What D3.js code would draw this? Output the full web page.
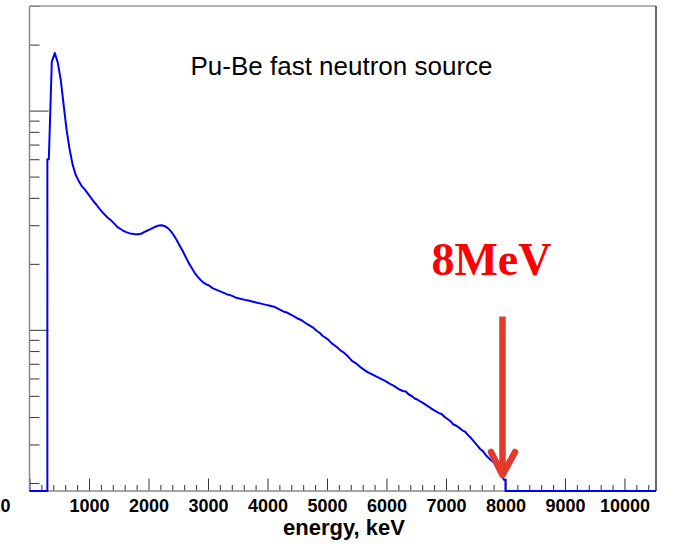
<!DOCTYPE html>
<html>
<head>
<meta charset="utf-8">
<script src="https://cdn.jsdelivr.net/npm/d3@7"></script>
<style>
  body { margin: 0; background: #fff; }
  svg { display: block; }
</style>
</head>
<body>
<svg id="chart" width="679" height="546"></svg>
<script>
// Pu-Be neutron spectrum, counts per 50 keV bin starting at 0 keV
const binWidth = 50;
const counts = [
  // 0 - 1000 keV
  0, 0, 0, 0, 0, 0, 600, 1674, 1830, 1656, 1385, 1054, 810, 664, 567, 510, 479, 454, 438, 420,
  // 1000 - 2000 keV
  403, 386, 372, 357, 344, 333, 323, 315, 305, 295, 289, 283, 279, 276, 274, 273, 273, 274, 279, 283,
  // 2000 - 3000 keV
  287, 292, 296, 299, 300, 297, 291, 282, 270, 256, 242, 229, 215, 202, 192, 182, 175, 169, 164, 161,
  // 3000 - 4000 keV
  159, 155, 153, 151, 149, 147, 145, 144, 142, 140, 139, 138, 137, 136, 135, 134, 133, 132, 131, 130,
  // 4000 - 5000 keV
  129, 128, 127, 125, 123, 121, 120, 118, 116, 114, 112, 110.6, 108, 106, 104, 102, 99, 97, 94, 92,
  // 5000 - 6000 keV
  90, 87, 85, 83, 80.6, 79, 77.0, 74.5, 72.0, 70.7, 68.9, 67.2, 65.7, 64.3, 63.3, 62.3, 61.3, 60.4, 59.4, 58.5,
  // 6000 - 7000 keV
  57.4, 56.4, 55.5, 54.4, 53.3, 52.6, 52.3, 50.7, 49.9, 48.6, 48.0, 47.0, 46.2, 45.2, 44.3, 43.4, 42.6, 41.8, 41.3, 40.1,
  // 7000 - 8000 keV
  39.2, 38.3, 37.0, 36.5, 35.7, 34.8, 34.2, 33.0, 32.0, 30.8, 29.7, 28.6, 27.9, 26.7, 25.9, 25.2, 24.6, 23.2, 21.9, 20.7,
  // 8000 - 9000 keV
  0, 0, 0, 0, 0, 0, 0, 0, 0, 0, 0, 0, 0, 0, 0, 0, 0, 0, 0, 0,
  // 9000 - 10000 keV
  0, 0, 0, 0, 0, 0, 0, 0, 0, 0, 0, 0, 0, 0, 0, 0, 0, 0, 0, 0,
  // 10000 - 10550 keV
  0, 0, 0, 0, 0, 0, 0, 0, 0, 0, 0
];
const energyLabels = [0, 1000, 2000, 3000, 4000, 5000, 6000, 7000, 8000, 9000, 10000];
const energyRange = [0, 10530];
const countRange = [18.4, 3000];
const titleText = "Pu-Be fast neutron source";
const axisTitleText = "energy, keV";
const markerText = "8MeV";
const markerEnergy = 7950;

const svg = d3.select("#chart");
const plot = { left: 29.5, right: 656, top: 6, bottom: 491 };

const x = d3.scaleLinear().domain(energyRange).range([plot.left, plot.right]);
const y = d3.scaleLog().domain(countRange).range([plot.bottom, plot.top]);
const yOf = v => (v > countRange[0] ? y(v) : plot.bottom);

// ---- x axis: minor ticks every 200 keV, major every 1000 keV, all pointing inward
const minorX = d3.range(0, energyRange[1], 200).filter(v => v % 1000 !== 0);
const gxMinor = svg.append("g")
  .attr("transform", `translate(0,${plot.bottom})`)
  .call(d3.axisTop(x).tickValues(minorX).tickSize(6).tickFormat(""));
const gxMajor = svg.append("g")
  .attr("transform", `translate(0,${plot.bottom})`)
  .call(d3.axisTop(x).tickValues(energyLabels).tickSize(12.5).tickFormat(""));
[gxMinor, gxMajor].forEach(g => {
  g.select(".domain").remove();
  g.selectAll(".tick line").attr("stroke", "#333").attr("stroke-width", 1);
});

// tick labels
const gxLabels = svg.append("g")
  .attr("transform", `translate(0,${plot.bottom})`)
  .call(d3.axisBottom(x).tickValues(energyLabels).tickSize(0).tickFormat(d3.format("d")));
gxLabels.select(".domain").remove();
gxLabels.selectAll(".tick text")
  .attr("y", 21).attr("dy", 0)
  .attr("fill", "#000")
  .style("font-family", "'Liberation Sans', Arial, Helvetica, sans-serif")
  .style("font-weight", "bold")
  .style("font-size", "18px");
// the first label sits hard against the left edge of the canvas
gxLabels.selectAll(".tick").filter(d => d === 0)
  .select("text").attr("x", -x(0)).attr("text-anchor", "start");

// ---- y axis (log), ticks pointing inward from the left edge
const gy = svg.append("g")
  .attr("transform", `translate(${plot.left},0)`)
  .call(d3.axisRight(y).tickSize(10).tickFormat(""));
gy.select(".domain").remove();
gy.selectAll(".tick line")
  .attr("stroke", "#333").attr("stroke-width", 1)
  .attr("x2", d => Math.abs(Math.log10(d) - Math.round(Math.log10(d))) < 1e-9 ? 19 : 10);

// ---- frame
svg.append("line").attr("x1", plot.left).attr("x2", plot.left)
  .attr("y1", plot.top).attr("y2", plot.bottom)
  .attr("stroke", "#888").attr("stroke-width", 1.5);
svg.append("line").attr("x1", plot.left).attr("x2", plot.right)
  .attr("y1", plot.top).attr("y2", plot.top)
  .attr("stroke", "#999").attr("stroke-width", 1.5);
svg.append("line").attr("x1", plot.left).attr("x2", plot.right)
  .attr("y1", plot.bottom).attr("y2", plot.bottom)
  .attr("stroke", "#888").attr("stroke-width", 1.5);
svg.append("line").attr("x1", plot.right).attr("x2", plot.right)
  .attr("y1", plot.top).attr("y2", plot.bottom)
  .attr("stroke", "#333").attr("stroke-width", 1.5);

// ---- spectrum line: bin centres joined, with vertical edges where
// the spectrum starts from / falls back to zero
const pts = [];
counts.forEach((c, i) => {
  const lo = i * binWidth, mid = lo + binWidth / 2;
  const prev = i > 0 ? counts[i - 1] : 0;
  if (c > 0 && prev <= 0) { pts.push([lo, 0]); pts.push([lo, c]); }
  if (c <= 0 && prev > 0) { pts.push([lo, prev]); pts.push([lo, 0]); }
  if (c > 0) pts.push([mid, c]);
  else if (i === 0) pts.push([lo, 0]);
});
pts.push([counts.length * binWidth, counts[counts.length - 1]]);
const spectrumLine = d3.line()
  .x(d => Math.min(x(d[0]), plot.right))
  .y(d => yOf(d[1]));
svg.append("path")
  .datum(pts)
  .attr("d", spectrumLine)
  .attr("fill", "none")
  .attr("stroke", "#0000ff")
  .attr("stroke-width", 2)
  .attr("stroke-linejoin", "round");

// ---- title
svg.append("text")
  .attr("x", 341.5).attr("y", 74.5)
  .attr("text-anchor", "middle")
  .style("font-family", "'Liberation Sans', Arial, Helvetica, sans-serif")
  .style("font-size", "26px")
  .attr("fill", "#000")
  .text(titleText);

// ---- axis title
svg.append("text")
  .attr("x", 405).attr("y", 535)
  .attr("text-anchor", "end")
  .style("font-family", "'Liberation Sans', Arial, Helvetica, sans-serif")
  .style("font-weight", "bold")
  .style("font-size", "22px")
  .attr("fill", "#000")
  .text(axisTitleText);

// ---- 8 MeV marker
const ax = x(markerEnergy);
svg.append("text")
  .attr("x", ax - 11).attr("y", 275)
  .attr("text-anchor", "middle")
  .style("font-family", "'Liberation Serif', 'Times New Roman', serif")
  .style("font-weight", "bold")
  .style("font-size", "46px")
  .attr("fill", "#ff0000")
  .text(markerText);
const arrowColor = "#e23b2e";
svg.append("line")
  .attr("x1", ax).attr("x2", ax)
  .attr("y1", 316.5).attr("y2", 472)
  .attr("stroke", arrowColor).attr("stroke-width", 6.5);
svg.append("path")
  .attr("d", `M${ax - 11.5},452 L${ax},475 L${ax + 12.5},452`)
  .attr("fill", "none")
  .attr("stroke", arrowColor)
  .attr("stroke-width", 6.5)
  .attr("stroke-linecap", "round")
  .attr("stroke-linejoin", "round");
</script>
</body>
</html>
